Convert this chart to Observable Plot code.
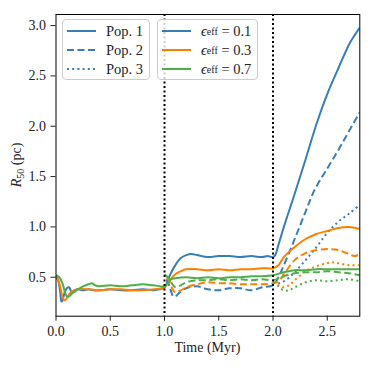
<!DOCTYPE html>
<html><head><meta charset="utf-8">
<script src="https://cdn.jsdelivr.net/npm/d3@7"></script>
<script src="https://cdn.jsdelivr.net/npm/@observablehq/plot@0.6"></script>
<style>
body{margin:0;background:#fff;}
#wrap{position:relative;width:374px;height:366px;font-family:'Liberation Serif','Times New Roman',Times,'DejaVu Serif',serif;color:#222;}
#wrap svg text{font-family:'Liberation Serif','Times New Roman',Times,'DejaVu Serif',serif;}
.leg{position:absolute;border:1px solid #cccccc;border-radius:4px;background:rgba(255,255,255,0.8);box-sizing:border-box;}
.row{position:absolute;height:18px;display:flex;align-items:center;font-size:14.5px;white-space:nowrap;}
.row svg{margin-right:10px;}
sub{font-size:10px;vertical-align:-3px;}
</style></head><body><div id="wrap"></div>
<script>
// ---------- data (Time in Myr, R50 in pc) ----------
const xTicks = [0, 0.5, 1.0, 1.5, 2.0, 2.5];
const yTicks = [0.5, 1.0, 1.5, 2.0, 2.5, 3.0];
const events = [1.0, 2.0];
const effLabels = ["0.1", "0.3", "0.7"];
const popLabels = ["Pop. 1", "Pop. 2", "Pop. 3"];
const effColors = ["#377eb8", "#ff7f00", "#4daf4a"];

// Pop. 1
const p1e1_t = [0,0.02,0.04,0.05,0.06,0.08,0.1,0.12,0.14,0.16,0.2,0.25,0.3,0.35,0.4,0.5,0.6,0.7,0.8,0.9,0.95,1.0,1.05,1.1,1.15,1.2,1.25,1.3,1.4,1.5,1.6,1.7,1.8,1.9,1.95,2.0,2.02,2.05,2.1,2.2,2.3,2.4,2.5,2.6,2.7,2.75,2.8];
const p1e1_r = [0.51,0.47,0.34,0.26,0.27,0.35,0.39,0.40,0.36,0.35,0.38,0.37,0.38,0.37,0.37,0.38,0.37,0.37,0.38,0.37,0.38,0.40,0.52,0.62,0.69,0.72,0.73,0.72,0.70,0.71,0.71,0.70,0.71,0.70,0.71,0.70,0.72,0.82,1.00,1.33,1.67,2.02,2.32,2.57,2.81,2.90,2.98];
const p1e3_t = [0,0.02,0.04,0.06,0.08,0.1,0.12,0.15,0.2,0.3,0.4,0.5,0.6,0.7,0.8,0.9,1.0,1.05,1.1,1.15,1.2,1.3,1.4,1.5,1.6,1.7,1.8,1.9,2.0,2.05,2.1,2.2,2.3,2.4,2.5,2.6,2.7,2.8];
const p1e3_r = [0.50,0.47,0.40,0.30,0.27,0.29,0.33,0.36,0.38,0.38,0.37,0.38,0.38,0.37,0.37,0.38,0.40,0.47,0.53,0.56,0.58,0.58,0.57,0.58,0.57,0.58,0.58,0.59,0.59,0.62,0.70,0.80,0.88,0.93,0.96,0.99,1.00,0.98];
const p1e7_t = [0,0.03,0.06,0.08,0.1,0.12,0.15,0.2,0.25,0.3,0.33,0.36,0.4,0.5,0.6,0.7,0.8,0.9,1.0,1.03,1.06,1.1,1.2,1.3,1.4,1.5,1.6,1.7,1.8,1.9,2.0,2.1,2.2,2.3,2.4,2.5,2.6,2.7,2.8];
const p1e7_r = [0.52,0.50,0.44,0.36,0.31,0.31,0.34,0.38,0.41,0.43,0.44,0.42,0.41,0.42,0.41,0.42,0.43,0.42,0.41,0.44,0.48,0.49,0.50,0.49,0.50,0.49,0.50,0.50,0.51,0.51,0.52,0.55,0.57,0.57,0.58,0.58,0.58,0.58,0.58];

// Pop. 2
const p2e1_t = [1.02,1.05,1.08,1.1,1.15,1.2,1.3,1.4,1.5,1.6,1.7,1.8,1.9,2.0,2.05,2.1,2.2,2.3,2.38,2.5,2.6,2.7,2.8];
const p2e1_r = [0.48,0.40,0.31,0.31,0.36,0.39,0.41,0.38,0.37,0.39,0.39,0.37,0.40,0.42,0.50,0.62,0.88,1.15,1.36,1.58,1.76,1.95,2.14];
const p2e3_t = [1.02,1.05,1.08,1.1,1.15,1.2,1.3,1.4,1.5,1.6,1.7,1.8,1.9,2.0,2.05,2.1,2.2,2.3,2.4,2.5,2.6,2.7,2.75,2.8];
const p2e3_r = [0.50,0.45,0.37,0.35,0.37,0.40,0.43,0.45,0.44,0.44,0.43,0.43,0.43,0.44,0.46,0.53,0.67,0.74,0.77,0.78,0.77,0.73,0.71,0.73];
const p2e7_t = [1.0,1.03,1.06,1.1,1.15,1.2,1.3,1.4,1.5,1.6,1.7,1.8,1.9,2.0,2.1,2.2,2.3,2.4,2.5,2.6,2.7,2.8];
const p2e7_r = [0.53,0.50,0.45,0.40,0.42,0.45,0.47,0.47,0.48,0.47,0.48,0.47,0.48,0.47,0.51,0.54,0.55,0.55,0.56,0.55,0.54,0.52];

// Pop. 3
const p3e1_t = [2.0,2.05,2.1,2.15,2.2,2.3,2.4,2.5,2.6,2.7,2.8];
const p3e1_r = [0.45,0.44,0.46,0.50,0.55,0.67,0.80,0.94,1.05,1.13,1.22];
const p3e3_t = [2.0,2.05,2.1,2.15,2.2,2.3,2.4,2.5,2.55,2.6,2.7,2.8];
const p3e3_r = [0.45,0.42,0.40,0.42,0.47,0.56,0.61,0.64,0.65,0.64,0.62,0.62];
const p3e7_t = [2.0,2.05,2.1,2.15,2.2,2.3,2.4,2.5,2.6,2.7,2.8];
const p3e7_r = [0.45,0.41,0.37,0.37,0.40,0.45,0.47,0.46,0.47,0.48,0.46];

// ---------- build ----------
const seriesTable = [
  [[p1e1_t,p1e1_r],[p2e1_t,p2e1_r],[p3e1_t,p3e1_r]],
  [[p1e3_t,p1e3_r],[p2e3_t,p2e3_r],[p3e3_t,p3e3_r]],
  [[p1e7_t,p1e7_r],[p2e7_t,p2e7_r],[p3e7_t,p3e7_r]]
];
const dashes = ["none", "7,3.5", "2,3.2"];
const lw = 2;

const marks = [];
seriesTable.forEach((pops, ei) => {
  pops.forEach(([ts, rs], pi) => {
    const rows = ts.map((t, i) => ({t, r: rs[i]}));
    marks.push(Plot.line(rows, {x: "t", y: "r", stroke: effColors[ei], strokeWidth: lw,
      strokeDasharray: dashes[pi] === "none" ? undefined : dashes[pi],
      strokeLinecap: "butt", curve: "catmull-rom"}));
  });
});
marks.push(Plot.ruleX(events, {stroke: "black", strokeWidth: 2, strokeDasharray: "2,2.5"}));
marks.push(Plot.frame({stroke: "black", strokeWidth: 1}));

const W = 374, H = 366;
const chart = Plot.plot({
  width: W, height: H,
  marginLeft: 55.5, marginRight: 14.7, marginTop: 14, marginBottom: 50.3,
  style: {fontSize: "14px", color: "#222", background: "white"},
  x: {domain: [0, 2.8], ticks: xTicks, tickFormat: d3.format(".1f"), label: null, tickSize: 5, tickPadding: 5},
  y: {domain: [0.113, 3.11], ticks: yTicks, tickFormat: d3.format(".1f"), label: null, tickSize: 5, tickPadding: 5},
  clip: true,
  marks
});
const wrap = document.getElementById("wrap");
wrap.appendChild(chart);

// axis labels
const svg = d3.select(chart);
const ylab = svg.append("text").attr("transform", "translate(21,165) rotate(-90)")
  .attr("text-anchor", "middle").attr("font-size", "14px").attr("fill", "#222");
ylab.append("tspan").attr("font-style", "italic").text("R");
ylab.append("tspan").attr("font-size", "10px").attr("dy", "3").text("50");
ylab.append("tspan").attr("dy", "-3").text(" (pc)");
svg.append("text").attr("x", 207.4).attr("y", 352).attr("text-anchor", "middle")
  .attr("font-size", "14px").attr("fill", "#222").text("Time (Myr)");

// legends
function sample(color, dash) {
  return `<svg width="29" height="4" style="overflow:visible"><line x1="0" x2="29" y1="2" y2="2" stroke="${color}" stroke-width="2" ${dash==="none"?"":`stroke-dasharray="${dash}"`} stroke-linecap="butt"/></svg>`;
}
function box(left, width, entries) {
  const b = document.createElement("div");
  b.className = "leg";
  b.style.left = left + "px"; b.style.top = "19px";
  b.style.width = width + "px"; b.style.height = "61px";
  entries.forEach((e, i) => {
    const r = document.createElement("div");
    r.className = "row";
    r.style.left = "4px"; r.style.top = (2 + i * 19) + "px";
    r.innerHTML = sample(e.color, e.dash) + e.label;
    b.appendChild(r);
  });
  wrap.appendChild(b);
}
box(62, 88, popLabels.map((l, i) => ({label: l, color: effColors[0], dash: dashes[i]})));
box(157, 101, effLabels.map((l, i) => ({label: `<span style="font-style:italic">ϵ</span><sub>eff</sub>&nbsp;=&nbsp;${l}`, color: effColors[i], dash: "none"})));
</script></body></html>
